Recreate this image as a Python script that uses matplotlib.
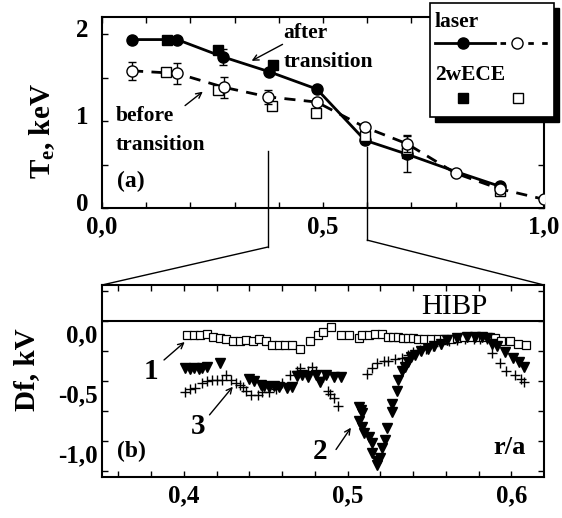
import numpy as np
import matplotlib
matplotlib.use("Agg")
import matplotlib.pyplot as plt
from matplotlib.patches import Rectangle, ConnectionPatch
from matplotlib.lines import Line2D
from matplotlib.transforms import ScaledTranslation

plt.rcParams['font.family'] = 'Liberation Serif'
plt.rcParams['font.weight'] = 'bold'
plt.rcParams['mathtext.fontset'] = 'custom'
plt.rcParams['mathtext.rm'] = 'Liberation Serif:bold'
plt.rcParams['mathtext.it'] = 'Liberation Serif:bold'

# ---- (a) temperature profiles ----
r_after = [0.068, 0.17, 0.274, 0.378, 0.486, 0.595, 0.69, 0.80, 0.90]
te_after = [1.94, 1.94, 1.74, 1.57, 1.37, 0.78, 0.62, 0.42, 0.25]
err_after = [0, 0, 0.09, 0, 0, 0, 0, 0, 0]

r_before = [0.068, 0.17, 0.276, 0.376, 0.486, 0.595, 0.69, 0.80, 0.90, 1.0]
te_before = [1.58, 1.55, 1.39, 1.28, 1.22, 0.93, 0.74, 0.40, 0.22, 0.10]
err_before = [0.1, 0.12, 0.12, 0.08, 0, 0, 0.09, 0, 0, 0]

r_ece_after = [0.147, 0.263, 0.387, 0.69]
te_ece_after = [1.94, 1.82, 1.65, 0.63]
err_ece_after = [0, 0, 0, 0.21]

r_ece_before = [0.145, 0.262, 0.385, 0.484, 0.595, 0.69, 0.90]
te_ece_before = [1.57, 1.36, 1.18, 1.10, 0.83, 0.68, 0.20]

# ---- (b) HIBP potential profiles ----
r1 = [0.402, 0.406, 0.410, 0.414, 0.418, 0.422, 0.426, 0.430, 0.434, 0.438,
      0.442, 0.446, 0.450, 0.454, 0.458, 0.462, 0.466, 0.471, 0.477, 0.482,
      0.485, 0.490, 0.496, 0.501, 0.507, 0.509, 0.513, 0.517, 0.521, 0.525,
      0.528, 0.531, 0.534, 0.537, 0.540, 0.543, 0.547, 0.551, 0.555, 0.559,
      0.563, 0.567, 0.571, 0.575, 0.579, 0.583, 0.587, 0.590, 0.594, 0.599,
      0.604, 0.609]
phi1 = [-0.12, -0.12, -0.12, -0.11, -0.13, -0.14, -0.15, -0.17, -0.17, -0.16,
        -0.17, -0.15, -0.17, -0.20, -0.20, -0.20, -0.20, -0.23, -0.17, -0.12,
        -0.09, -0.05, -0.12, -0.12, -0.14, -0.12, -0.12, -0.11, -0.11, -0.13,
        -0.13, -0.13, -0.14, -0.14, -0.14, -0.15, -0.15, -0.15, -0.15, -0.15,
        -0.15, -0.14, -0.13, -0.13, -0.13, -0.13, -0.13, -0.14, -0.17, -0.17,
        -0.19, -0.20]

r2 = [0.401, 0.404, 0.406, 0.409, 0.411, 0.414, 0.422,
      0.440, 0.443, 0.447, 0.449, 0.452, 0.455, 0.458, 0.463, 0.466, 0.469,
      0.472, 0.476, 0.481, 0.483, 0.487, 0.492, 0.496,
      0.507, 0.508, 0.509, 0.507, 0.509, 0.510, 0.513, 0.515, 0.515, 0.518,
      0.518, 0.520, 0.521, 0.523, 0.524, 0.527, 0.527, 0.530, 0.531, 0.533,
      0.535, 0.537, 0.539, 0.541, 0.545, 0.549, 0.553, 0.557, 0.561, 0.567,
      0.573, 0.578, 0.582, 0.585, 0.588, 0.591, 0.596, 0.601, 0.605, 0.608]
phi2 = [-0.39, -0.40, -0.39, -0.40, -0.39, -0.38, -0.35,
        -0.48, -0.50, -0.53, -0.54, -0.55, -0.54, -0.55, -0.56, -0.55, -0.46,
        -0.45, -0.47, -0.45, -0.51, -0.45, -0.47, -0.47,
        -0.72, -0.74, -0.77, -0.83, -0.88, -0.93, -0.97, -1.02, -1.10, -1.17,
        -1.20, -1.14, -1.06, -0.99, -0.89, -0.76, -0.69, -0.58, -0.49, -0.42,
        -0.38, -0.34, -0.30, -0.28, -0.25, -0.23, -0.21, -0.19, -0.16, -0.14,
        -0.13, -0.13, -0.13, -0.14, -0.19, -0.21, -0.26, -0.31, -0.34, -0.38]

r3 = [0.401, 0.404, 0.407, 0.411, 0.414, 0.417, 0.420, 0.423, 0.426, 0.429,
      0.432, 0.434, 0.436, 0.438, 0.441, 0.445, 0.448, 0.452, 0.456, 0.460,
      0.465, 0.469, 0.471, 0.476, 0.478, 0.481, 0.485, 0.488, 0.489, 0.492,
      0.494,
      0.512, 0.515, 0.518, 0.522, 0.525, 0.529, 0.533, 0.537, 0.540, 0.544,
      0.548, 0.552, 0.557, 0.562, 0.567, 0.572, 0.577, 0.581, 0.585, 0.588,
      0.593, 0.597, 0.602, 0.606, 0.608]
phi3 = [-0.59, -0.57, -0.56, -0.52, -0.50, -0.49, -0.49, -0.49, -0.45, -0.49,
        -0.52, -0.53, -0.55, -0.58, -0.62, -0.62, -0.59, -0.59, -0.57, -0.52,
        -0.45, -0.42, -0.39, -0.42, -0.38, -0.42, -0.47, -0.58, -0.61, -0.64,
        -0.71,
        -0.44, -0.39, -0.35, -0.33, -0.33, -0.32, -0.31, -0.28, -0.26, -0.24,
        -0.23, -0.21, -0.19, -0.17, -0.16, -0.15, -0.15, -0.15, -0.15, -0.27,
        -0.35, -0.42, -0.45, -0.48, -0.51]

W, H = 562, 518
fig = plt.figure(figsize=(W / 100, H / 100), dpi=100)
ax1 = fig.add_axes([102 / W, 1 - 208 / H, 442 / W, 191 / H])
ax2 = fig.add_axes([102 / W, 1 - 477 / H, 442 / W, 192 / H])

for ax in (ax1, ax2):
    for s in ax.spines.values():
        s.set_linewidth(1.5)
    ax.tick_params(which='both', direction='in', top=True, right=True,
                   length=4, width=1.0, labelsize=18, pad=5)

# panel (a)
ax1.plot(r_after, te_after, '-', color='black', lw=2.0, zorder=2)
ax1.plot(r_before, te_before, '--', color='black', lw=2.0, dashes=(4, 3), zorder=2)
ax1.errorbar(r_after, te_after, yerr=err_after, fmt='o', ms=8, mfc='black',
             mec='black', ecolor='black', elinewidth=1, capsize=3,
             markevery=[0, 1, 2, 3, 4, 5, 6, 8], zorder=3)
ax1.errorbar(r_ece_after, te_ece_after, yerr=err_ece_after, fmt='s', ms=7,
             mfc='black', mec='black', ecolor='black', elinewidth=1, capsize=3,
             zorder=3)
ax1.plot(r_ece_before, te_ece_before, 's', ms=7, mfc='white', mec='black',
         mew=1.0, zorder=4)
ax1.errorbar(r_before, te_before, yerr=err_before, fmt='o', ms=8, mfc='white',
             mec='black', mew=1.0, ecolor='black', elinewidth=1, capsize=3,
             zorder=5)

ax1.set_xlim(0, 1.0)
ax1.set_ylim(0, 2.2)
ax1.set_xticks([0, 0.5, 1.0], ['0,0', '0,5', '1,0'])
ax1.set_xticks(np.arange(0.1, 1.0, 0.1), minor=True)
ax1.set_yticks([0, 1, 2], ['0', '1', '2'])
ax1.set_yticks([0.5, 1.5], minor=True)
ax1.tick_params(axis='y', pad=10)
for lbl in ax1.get_yticklabels():
    lbl.set_transform(lbl.get_transform() + ScaledTranslation(0, 0.06, fig.dpi_scale_trans))

ax1.annotate('', xy=(0.333, 1.68), xytext=(0.414, 1.90),
             arrowprops=dict(arrowstyle='->', color='black', lw=1.0))
ax1.text(0.41, 2.02, 'after', fontsize=15.5, va='center', ha='left')
ax1.text(0.41, 1.68, 'transition', fontsize=15.5, va='center', ha='left')
ax1.annotate('', xy=(0.233, 1.36), xytext=(0.183, 1.16),
             arrowprops=dict(arrowstyle='->', color='black', lw=1.0))
ax1.text(0.03, 1.06, 'before', fontsize=15.5, va='center', ha='left')
ax1.text(0.03, 0.73, 'transition', fontsize=15.5, va='center', ha='left')
ax1.text(0.034, 0.31, '(a)', fontsize=17, va='center', ha='left')

fig.text(42 / W, 1 - 131 / H, r'T$_{\mathrm{e}}$, keV', fontsize=21,
         rotation=90, ha='center', va='center')

# zoom connectors
zoom_lo, zoom_hi = 0.375, 0.6
ax1.plot([zoom_lo, zoom_lo], [0.66, -0.45], color='black', lw=1.0, clip_on=False)
ax1.plot([zoom_hi, zoom_hi], [0.70, -0.37], color='black', lw=1.0, clip_on=False)
for xa, ya, xb in ((zoom_lo, -0.45, 0), (zoom_hi, -0.37, 1)):
    con = ConnectionPatch(xyA=(xa, ya), coordsA=ax1.transData,
                          xyB=(xb, 1), coordsB=ax2.transAxes,
                          color='black', lw=1.0)
    fig.add_artist(con)

# panel (b)
ax2.axhline(0, color='black', lw=1.5)
ax2.plot(r1, phi1, 's', ms=5.5, mfc='white', mec='black', mew=0.9, zorder=3)
ax2.plot(r2, phi2, 'v', ms=7, mfc='black', mec='black', zorder=4)
ax2.plot(r3, phi3, '+', ms=7, mec='black', mew=1.0, zorder=2)

ax2.set_xlim(0.35, 0.62)
ax2.set_ylim(-1.3, 0.3)
ax2.set_xticks([0.4, 0.5, 0.6], ['0,4', '0,5', '0,6'])
ax2.set_xticks(np.arange(0.36, 0.62, 0.02), minor=True)
ax2.set_yticks([0, -0.5, -1.0], ['0,0', '-0,5', '-1,0'])
ax2.set_yticks([-0.25, -0.75, -1.25, 0.25], minor=True)
ax2.tick_params(axis='y', pad=3)
for lbl in ax2.get_yticklabels():
    lbl.set_transform(lbl.get_transform() + ScaledTranslation(0, -0.12, fig.dpi_scale_trans))

ax2.text(0.565, 0.12, 'HIBP', fontsize=21, fontweight='normal', ha='center', va='center')
ax2.text(0.38, -0.42, '1', fontsize=21, ha='center', va='center')
ax2.annotate('', xy=(0.4018, -0.16), xytext=(0.3866, -0.34),
             arrowprops=dict(arrowstyle='->', color='black', lw=1.0))
ax2.text(0.4085, -0.88, '3', fontsize=21, ha='center', va='center')
ax2.annotate('', xy=(0.431, -0.53), xytext=(0.4146, -0.80),
             arrowprops=dict(arrowstyle='->', color='black', lw=1.0))
ax2.text(0.483, -1.09, '2', fontsize=21, ha='center', va='center')
ax2.annotate('', xy=(0.503, -0.87), xytext=(0.492, -1.09),
             arrowprops=dict(arrowstyle='->', color='black', lw=1.0))
ax2.text(0.368, -1.09, '(b)', fontsize=17, ha='center', va='center')
ax2.text(0.599, -1.05, 'r/a', fontsize=19, ha='center', va='center')

fig.text(27 / W, 1 - 370 / H, 'Df, kV', fontsize=21, rotation=90,
         ha='center', va='center')

# legend box with drop shadow
def fx(px):
    return px / W

def fy(py):
    return 1 - py / H

fig.add_artist(Rectangle((fx(435), fy(122)), fx(559) - fx(435), fy(8) - fy(122),
                         transform=fig.transFigure, facecolor='black',
                         edgecolor='black', zorder=10))
fig.add_artist(Rectangle((fx(430), fy(117)), fx(554) - fx(430), fy(3) - fy(117),
                         transform=fig.transFigure, facecolor='white',
                         edgecolor='black', lw=1.2, zorder=11))
fig.text(fx(435), fy(22), 'laser', fontsize=15.5, va='center', ha='left', zorder=12)
fig.add_artist(Line2D([fx(435), fx(495)], [fy(43), fy(43)], color='black', lw=2,
                      transform=fig.transFigure, zorder=12))
fig.add_artist(Line2D([fx(463)], [fy(43)], marker='o', ms=8, color='black',
                      transform=fig.transFigure, zorder=13))
fig.add_artist(Line2D([fx(500), fx(548)], [fy(43), fy(43)], color='black', lw=2,
                      dashes=(2, 3), transform=fig.transFigure, zorder=12))
fig.add_artist(Line2D([fx(517)], [fy(43)], marker='o', ms=8, mfc='white',
                      mec='black', transform=fig.transFigure, zorder=13))
fig.text(fx(435), fy(75), '2wECE', fontsize=15.5, va='center', ha='left', zorder=12)
fig.add_artist(Line2D([fx(463)], [fy(98)], marker='s', ms=7, mfc='black',
                      mec='black', transform=fig.transFigure, zorder=13))
fig.add_artist(Line2D([fx(518)], [fy(98)], marker='s', ms=7, mfc='white',
                      mec='black', transform=fig.transFigure, zorder=13))

fig.savefig('out.png', dpi=100)
